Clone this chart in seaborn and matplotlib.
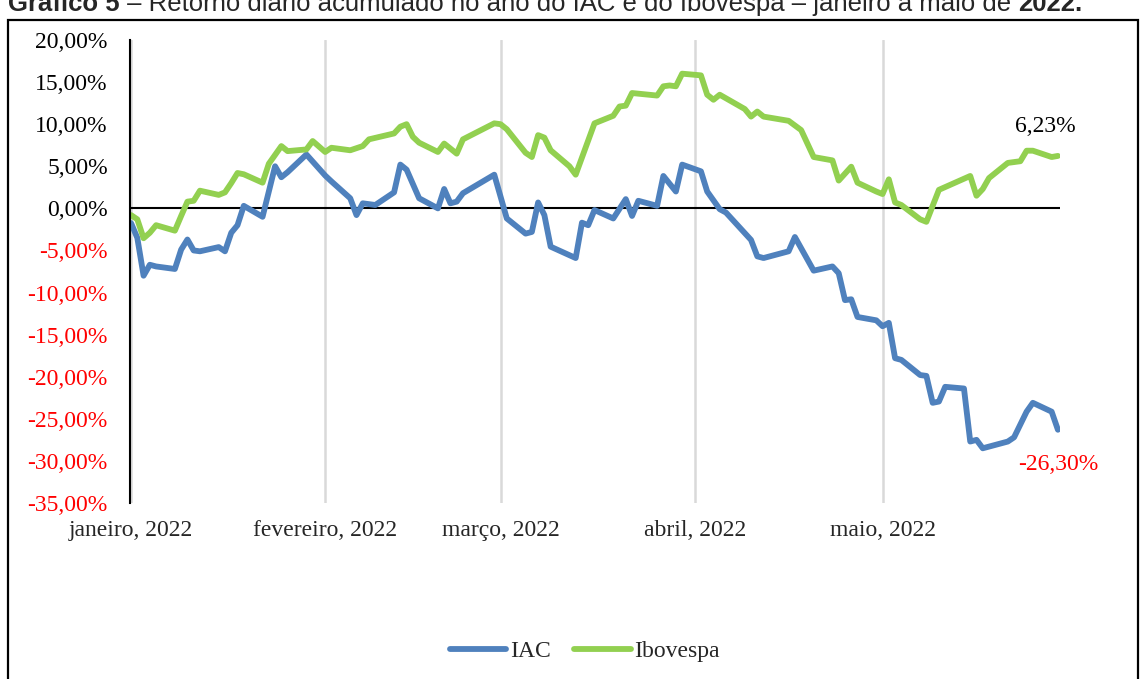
import pandas as pd
import numpy as np
import seaborn as sns
import matplotlib.pyplot as plt
import matplotlib.dates as mdates
from matplotlib.patches import Rectangle

# retorno acumulado diario (%)
iac_dates = ["2022-01-03", "2022-01-04", "2022-01-05", "2022-01-06", "2022-01-07", "2022-01-10",
             "2022-01-11", "2022-01-12", "2022-01-13", "2022-01-14", "2022-01-17", "2022-01-18",
             "2022-01-19", "2022-01-20", "2022-01-21", "2022-01-24", "2022-01-26", "2022-01-27",
             "2022-01-28", "2022-01-31", "2022-02-03", "2022-02-04", "2022-02-07", "2022-02-08",
             "2022-02-09", "2022-02-11", "2022-02-14", "2022-02-15", "2022-02-16", "2022-02-18",
             "2022-02-21", "2022-02-22", "2022-02-23", "2022-02-24", "2022-02-25", "2022-03-02",
             "2022-03-04", "2022-03-07", "2022-03-08", "2022-03-09", "2022-03-10", "2022-03-11",
             "2022-03-15", "2022-03-16", "2022-03-17", "2022-03-18", "2022-03-21", "2022-03-23",
             "2022-03-24", "2022-03-25", "2022-03-28", "2022-03-29", "2022-03-31", "2022-04-01",
             "2022-04-04", "2022-04-05", "2022-04-07", "2022-04-08", "2022-04-12", "2022-04-13",
             "2022-04-14", "2022-04-18", "2022-04-19", "2022-04-22", "2022-04-25", "2022-04-26",
             "2022-04-27", "2022-04-28", "2022-04-29", "2022-05-02", "2022-05-03", "2022-05-04",
             "2022-05-05", "2022-05-06", "2022-05-09", "2022-05-10", "2022-05-11", "2022-05-12",
             "2022-05-13", "2022-05-16", "2022-05-17", "2022-05-18", "2022-05-19", "2022-05-23",
             "2022-05-24", "2022-05-26", "2022-05-27", "2022-05-30", "2022-05-31"]
iac_values = [-1.75, -3.5, -8.0, -6.7, -6.9, -7.2,
              -4.9, -3.7, -5.0, -5.1, -4.6, -5.1,
              -2.9, -2.0, 0.3, -1.0, 5.0, 3.7,
              4.3, 6.4, 3.9, 3.2, 1.2, -0.8,
              0.6, 0.4, 1.9, 5.2, 4.6, 1.2,
              0.0, 2.3, 0.6, 0.8, 1.8, 4.0,
              -1.2, -3.0, -2.8, 0.7, -0.8, -4.55,
              -5.9, -1.7, -2.0, -0.2, -1.2, 1.1,
              -0.9, 0.9, 0.3, 3.85, 2.0, 5.2,
              4.4, 2.0, -0.1, -0.5, -3.75, -5.7,
              -5.9, -5.1, -3.4, -7.4, -6.9, -7.7,
              -10.9, -10.8, -12.9, -13.3, -14.0, -13.6,
              -17.8, -18.0, -19.8, -19.9, -23.1, -22.95,
              -21.2, -21.4, -27.7, -27.5, -28.5, -27.7,
              -27.2, -24.15, -23.1, -24.15, -26.30]

ibov_dates = ["2022-01-03", "2022-01-04", "2022-01-05", "2022-01-06", "2022-01-07", "2022-01-10",
              "2022-01-11", "2022-01-12", "2022-01-13", "2022-01-14", "2022-01-17", "2022-01-18",
              "2022-01-19", "2022-01-20", "2022-01-21", "2022-01-24", "2022-01-25", "2022-01-27",
              "2022-01-28", "2022-01-31", "2022-02-01", "2022-02-03", "2022-02-04", "2022-02-07",
              "2022-02-09", "2022-02-10", "2022-02-14", "2022-02-15", "2022-02-16", "2022-02-17",
              "2022-02-18", "2022-02-21", "2022-02-22", "2022-02-24", "2022-02-25", "2022-03-02",
              "2022-03-03", "2022-03-04", "2022-03-07", "2022-03-08", "2022-03-09", "2022-03-10",
              "2022-03-11", "2022-03-14", "2022-03-15", "2022-03-18", "2022-03-21", "2022-03-22",
              "2022-03-23", "2022-03-24", "2022-03-28", "2022-03-29", "2022-03-30", "2022-03-31",
              "2022-04-01", "2022-04-04", "2022-04-05", "2022-04-06", "2022-04-07", "2022-04-11",
              "2022-04-12", "2022-04-13", "2022-04-14", "2022-04-18", "2022-04-20", "2022-04-22",
              "2022-04-25", "2022-04-26", "2022-04-28", "2022-04-29", "2022-05-02", "2022-05-03",
              "2022-05-04", "2022-05-05", "2022-05-06", "2022-05-09", "2022-05-10", "2022-05-12",
              "2022-05-17", "2022-05-18", "2022-05-19", "2022-05-20", "2022-05-23", "2022-05-24",
              "2022-05-25", "2022-05-26", "2022-05-27", "2022-05-30", "2022-05-31"]
ibov_values = [-0.8, -1.3, -3.55, -2.9, -2.0, -2.65,
               -0.9, 0.8, 0.9, 2.1, 1.6, 1.9,
               3.0, 4.2, 4.05, 3.05, 5.3, 7.4,
               6.8, 7.0, 8.0, 6.7, 7.2, 6.9,
               7.4, 8.2, 8.9, 9.7, 10.0, 8.5,
               7.8, 6.7, 7.7, 6.5, 8.2, 10.1,
               10.0, 9.4, 6.6, 6.1, 8.7, 8.4,
               6.9, 5.0, 4.0, 10.1, 11.0, 12.1,
               12.2, 13.7, 13.4, 14.5, 14.6, 14.5,
               16.0, 15.8, 13.5, 12.9, 13.5, 11.8,
               10.9, 11.5, 10.9, 10.4, 9.3, 6.1,
               5.7, 3.3, 4.95, 3.05, 2.0, 1.7,
               3.45, 0.7, 0.4, -1.3, -1.6, 2.2,
               3.85, 1.5, 2.3, 3.6, 5.4, 5.5,
               5.6, 6.85, 6.85, 6.1, 6.23]

series_names = ["IAC", "Ibovespa"]
colors = {"IAC": "#4F81BD", "Ibovespa": "#92D050"}

tick_dates = ["2022-01-03", "2022-02-03", "2022-03-03", "2022-04-03", "2022-05-03"]
tick_labels = ["janeiro, 2022", "fevereiro, 2022", "março, 2022", "abril, 2022", "maio, 2022"]
y_ticks = [20, 15, 10, 5, 0, -5, -10, -15, -20, -25, -30, -35]
y_labels = ["20,00%", "15,00%", "10,00%", "5,00%", "0,00%", "-5,00%", "-10,00%",
            "-15,00%", "-20,00%", "-25,00%", "-30,00%", "-35,00%"]

df = pd.concat([
    pd.DataFrame({"data": pd.to_datetime(iac_dates), "retorno": iac_values, "serie": "IAC"}),
    pd.DataFrame({"data": pd.to_datetime(ibov_dates), "retorno": ibov_values, "serie": "Ibovespa"}),
])

sns.set_style("white")
plt.rcParams['font.family'] = ['Liberation Serif', 'DejaVu Serif']
FS = 17

fig = plt.figure(figsize=(11.4, 6.79), dpi=100)
ax = fig.add_axes([130 / 1140, 1 - 503 / 679, 930 / 1140, 463 / 679])

sns.lineplot(data=df, x="data", y="retorno", hue="serie", hue_order=series_names,
             palette=colors, linewidth=4.2, ax=ax, legend=False,
             solid_joinstyle="round", solid_capstyle="round")

ax.axhline(0, color="black", lw=1.5, zorder=1)

t0 = pd.Timestamp("2022-01-03")
ax.set_xlim(t0 - pd.Timedelta(hours=4), pd.Timestamp("2022-05-31") + pd.Timedelta(hours=8))
ax.set_ylim(-35, 20)
ax.set_xticks(pd.to_datetime(tick_dates))
ax.set_xticklabels(tick_labels)
ax.set_yticks(y_ticks)
ax.set_yticklabels(y_labels)
for lab, v in zip(ax.get_yticklabels(), y_ticks):
    lab.set_color("red" if v < 0 else "black")
ax.tick_params(axis="both", length=0, labelsize=FS)
ax.tick_params(axis="y", pad=16)
ax.tick_params(axis="x", pad=12)
ax.set_xlabel("")
ax.set_ylabel("")

ax.grid(axis="x", color="#D9D9D9", lw=1.8)
ax.grid(axis="y", visible=False)
for s in ["top", "right", "bottom"]:
    ax.spines[s].set_visible(False)
ax.spines["left"].set_color("black")
ax.spines["left"].set_linewidth(1.5)

# rotulos do ultimo valor
ax.annotate("6,23%", (pd.Timestamp(ibov_dates[-1]), ibov_values[-1]), xytext=(-9, 21),
            textcoords="offset points", ha="center", va="center", fontsize=FS, color="black")
ax.annotate("-26,30%", (pd.Timestamp(iac_dates[-1]), iac_values[-1]), xytext=(0, -25),
            textcoords="offset points", ha="center", va="center", fontsize=FS, color="red")

handles = ax.get_lines()[:2]
fig.legend(handles, series_names, loc="center", bbox_to_anchor=(0.513, 0.041), ncol=2,
           frameon=False, fontsize=FS, handlelength=2.4, handletextpad=0.15, columnspacing=1.0)

# moldura e titulo cortado
fig.patches.append(Rectangle((8 / 1140, -0.01), 1130 / 1140, 1 - 20 / 679 + 0.01,
                             transform=fig.transFigure, fill=False, ec="black", lw=1.6))
ty = 1 - 11 / 679
tfam = ["Liberation Sans", "DejaVu Sans"]
t1 = fig.text(8 / 1140, ty, "Gráfico 5", fontsize=18.5, fontweight="bold", family=tfam, va="baseline")
t2 = fig.text(0, 0, " – Retorno diário acumulado no ano do IAC e do Ibovespa – janeiro a maio de ",
              fontsize=18.5, family=tfam, va="baseline")
fig.canvas.draw()
bb = t1.get_window_extent()
t2.set_position((bb.x1 / fig.bbox.width, ty))
fig.canvas.draw()
bb2 = t2.get_window_extent()
fig.text(bb2.x1 / fig.bbox.width, ty, "2022.", fontsize=18.5, fontweight="bold", family=tfam, va="baseline")

fig.savefig("out.png", dpi=100)
